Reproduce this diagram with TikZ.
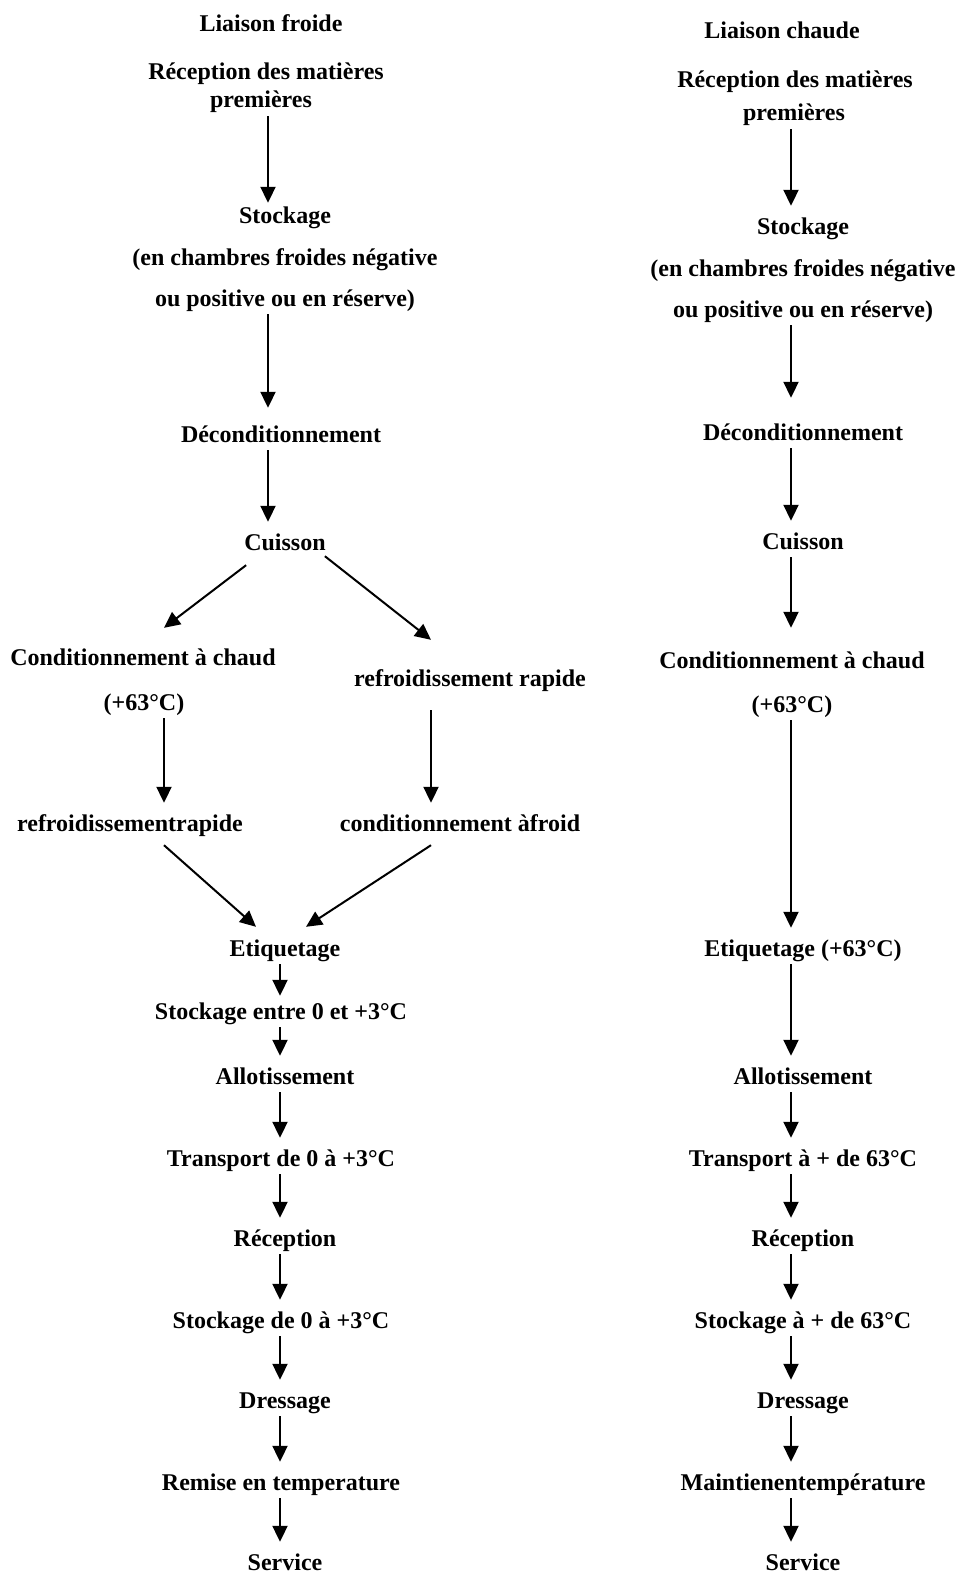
\documentclass[tikz,border=0pt]{standalone}
\usepackage{fontspec}
\setmainfont{Liberation Serif}
\usetikzlibrary{arrows.meta,calc}
\begin{document}
\begin{tikzpicture}[x=1pt,y=-1pt,
  lbl/.style={anchor=base,font=\fontsize{24}{28}\selectfont\bfseries,
    text height=25pt,text depth=5pt,inner xsep=2pt,inner ysep=3pt},
  arr/.style={line width=2pt,-{Triangle[length=16pt,width=15pt]}}]
\useasboundingbox (0,0) rectangle (959,1573);

% vertical axes of the arrows
\coordinate (axA) at (268,0);
\coordinate (axB) at (280,0);
\coordinate (axC) at (164,0);
\coordinate (axD) at (431,0);
\coordinate (axR) at (791,0);

% ---------- cold chain ----------
\node[lbl] (lt)  at (271,32)  {Liaison froide};
\node[lbl] (l1a) at (266,80)  {Réception des matières};
\node[lbl] (l1b) at (261,108) {premières};
\node[lbl] (l2a) at (285,223) {Stockage};
\node[lbl] (l2b) at (285,265) {(en chambres froides négative};
\node[lbl] (l2c) at (285,306) {ou positive ou en réserve)};
\node[lbl] (l3)  at (281,442) {Déconditionnement};
\node[lbl] (l4)  at (285,550) {Cuisson};
\node[lbl] (l5a) at (143,665) {Conditionnement à chaud};
\node[lbl] (l5b) at (144,710) {(+63°C)};
\node[lbl] (l6a) at (470,686) {refroidissement rapide};
\node[lbl] (l7a) at (130,831) {refroidissementrapide};
\node[lbl] (l7b) at (460,831) {conditionnement àfroid};
\node[lbl] (l8)  at (285,956) {Etiquetage};
\node[lbl] (l9)  at (281,1019) {Stockage entre 0 et +3°C};
\node[lbl] (l10) at (285,1084) {Allotissement};
\node[lbl] (l11) at (281,1166) {Transport de 0 à +3°C};
\node[lbl] (l12) at (285,1246) {Réception};
\node[lbl] (l13) at (281,1328) {Stockage de 0 à +3°C};
\node[lbl] (l14) at (285,1408) {Dressage};
\node[lbl] (l15) at (281,1490) {Remise en temperature};
\node[lbl] (l16) at (285,1570) {Service};

\draw[arr,shorten >=-8pt] (l1b.south -| axA) -- (l2a.north -| axA);
\draw[arr,shorten >=6pt]  (l2c.south -| axA) -- (l3.north -| axA);
\draw[arr] (l3.south -| axA) -- (l4.north -| axA);
\draw[arr] ($(l4.south west)+(4,7)$) -- ($(l5a.north)+(21,-9)$);
\draw[arr] ($(l4.south east)+(-3,-2)$) -- ($(l6a.north)+(-39,-18)$);
\draw[arr] (l5b.south -| axC) -- (l7a.north -| axC);
\draw[arr,shorten <=16pt] (l6a.south -| axD) -- (l7b.north -| axD);
\draw[arr] ($(l7a.south)+(34,6)$) -- ($(l8.north)+(-29,-1)$);
\draw[arr] ($(l7b.south)+(-29,6)$) -- ($(l8.north)+(21,-1)$);
\draw[arr,shorten >=-5pt] (l8.south -| axB) -- (l9.north -| axB);
\draw[arr] (l9.south -| axB) -- (l10.north -| axB);
\draw[arr] (l10.south -| axB) -- (l11.north -| axB);
\draw[arr] (l11.south -| axB) -- (l12.north -| axB);
\draw[arr] (l12.south -| axB) -- (l13.north -| axB);
\draw[arr] (l13.south -| axB) -- (l14.north -| axB);
\draw[arr] (l14.south -| axB) -- (l15.north -| axB);
\draw[arr] (l15.south -| axB) -- (l16.north -| axB);

% ---------- hot chain ----------
\node[lbl] (rt)  at (782,39)  {Liaison chaude};
\node[lbl] (r1a) at (795,88)  {Réception des matières};
\node[lbl] (r1b) at (794,121) {premières};
\node[lbl] (r2a) at (803,234) {Stockage};
\node[lbl] (r2b) at (803,276) {(en chambres froides négative};
\node[lbl] (r2c) at (803,317) {ou positive ou en réserve)};
\node[lbl] (r3)  at (803,440) {Déconditionnement};
\node[lbl] (r4)  at (803,549) {Cuisson};
\node[lbl] (r5a) at (792,668) {Conditionnement à chaud};
\node[lbl] (r5b) at (792,712) {(+63°C)};
\node[lbl] (r6)  at (803,956) {Etiquetage (+63°C)};
\node[lbl] (r7)  at (803,1084) {Allotissement};
\node[lbl] (r8)  at (803,1166) {Transport à + de 63°C};
\node[lbl] (r9)  at (803,1246) {Réception};
\node[lbl] (r10) at (803,1328) {Stockage à + de 63°C};
\node[lbl] (r11) at (803,1408) {Dressage};
\node[lbl] (r12) at (803,1490) {Maintienentempérature};
\node[lbl] (r13) at (803,1570) {Service};

\draw[arr] (r1b.south -| axR) -- (r2a.north -| axR);
\draw[arr,shorten >=14pt] (r2c.south -| axR) -- (r3.north -| axR);
\draw[arr] (r3.south -| axR) -- (r4.north -| axR);
\draw[arr,shorten >=12pt] (r4.south -| axR) -- (r5a.north -| axR);
\draw[arr] (r5b.south -| axR) -- (r6.north -| axR);
\draw[arr] (r6.south -| axR) -- (r7.north -| axR);
\draw[arr] (r7.south -| axR) -- (r8.north -| axR);
\draw[arr] (r8.south -| axR) -- (r9.north -| axR);
\draw[arr] (r9.south -| axR) -- (r10.north -| axR);
\draw[arr] (r10.south -| axR) -- (r11.north -| axR);
\draw[arr] (r11.south -| axR) -- (r12.north -| axR);
\draw[arr] (r12.south -| axR) -- (r13.north -| axR);
\end{tikzpicture}
\end{document}
